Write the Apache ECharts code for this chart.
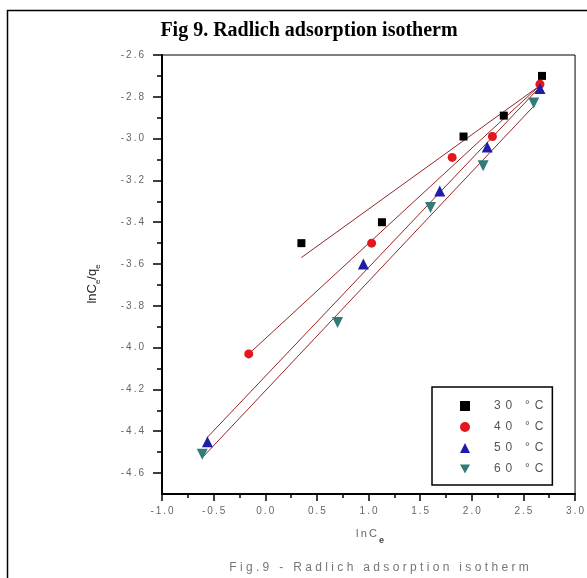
<!DOCTYPE html>
<html>
<head>
<meta charset="utf-8">
<script src="https://cdn.jsdelivr.net/npm/echarts@6/dist/echarts.min.js"></script>
<style>
  html, body { margin: 0; padding: 0; background: #fff; }
  #chart { width: 587px; height: 578px; }
</style>
</head>
<body>
<div id="chart"></div>
<script>
// Radlich isotherm: ln Ce against ln(Ce/qe) at four temperatures
const seriesNames = ['30 °C', '40 °C', '50 °C', '60 °C'];

const lnCe30 = [0.35, 1.13, 1.92, 2.31, 2.68];
const ratio30 = [-3.50, -3.40, -2.99, -2.89, -2.70];

const lnCe40 = [-0.16, 1.03, 1.81, 2.20, 2.66];
const ratio40 = [-4.03, -3.50, -3.09, -2.99, -2.74];

const lnCe50 = [-0.56, 0.95, 1.69, 2.15, 2.66];
const ratio50 = [-4.45, -3.60, -3.25, -3.04, -2.76];

const lnCe60 = [-0.61, 0.70, 1.60, 2.11, 2.60];
const ratio60 = [-4.51, -3.88, -3.33, -3.13, -2.83];

const xTicks = { min: -1.0, max: 3.0, step: 0.5 };
const yTicks = { min: -4.6, max: -2.6, step: 0.2 };

const colors = ['#000000', '#e3171d', '#1d1da8', '#2f7c7a'];
const symbols = ['rect', 'circle', 'triangle', 'triangle'];
const downTriangle = 'path://M0,0 L10,0 L5,9 Z';

// spread letters apart like the original typesetting
const spaced = (s, sep) => s.split('').join(sep || '\u2009');

// least-squares line through a data set, drawn across its x range
function fitLine(xs, ys) {
  const n = xs.length;
  const mx = xs.reduce((a, b) => a + b, 0) / n;
  const my = ys.reduce((a, b) => a + b, 0) / n;
  let sxy = 0, sxx = 0;
  for (let i = 0; i < n; i++) {
    sxy += (xs[i] - mx) * (ys[i] - my);
    sxx += (xs[i] - mx) * (xs[i] - mx);
  }
  const k = sxy / sxx, b = my - k * mx;
  const x0 = Math.min(...xs), x1 = Math.max(...xs);
  return [[x0, k * x0 + b], [x1, k * x1 + b]];
}

const sets = [[lnCe30, ratio30], [lnCe40, ratio40], [lnCe50, ratio50], [lnCe60, ratio60]];

const series = [];
sets.forEach(([xs, ys], i) => {
  series.push({
    name: 'fit' + i,
    type: 'line',
    data: fitLine(xs, ys),
    showSymbol: false,
    silent: true,
    z: 1,
    lineStyle: { color: '#962626', width: 1 }
  });
});
sets.forEach(([xs, ys], i) => {
  series.push({
    name: seriesNames[i],
    type: 'scatter',
    data: xs.map((x, j) => [x, ys[j]]),
    symbol: symbols[i],
    symbolRotate: i === 3 ? 180 : 0,
    symbolSize: i === 0 ? 8 : (i === 1 ? 9 : 11),
    itemStyle: { color: colors[i], opacity: 1 },
    z: 3
  });
});

const tickLabel = { color: '#666', fontSize: 10, fontFamily: 'Liberation Sans, Arial, sans-serif' };

const chart = echarts.init(document.getElementById('chart'), null, { renderer: 'canvas' });
chart.setOption({
  animation: false,
  backgroundColor: '#fff',
  title: {
    text: 'Fig 9. Radlich adsorption isotherm',
    left: 304,
    textAlign: 'center',
    top: 16,
    textStyle: { fontFamily: 'Liberation Serif, Times New Roman, serif', fontWeight: 'bold', fontSize: 20, color: '#000' }
  },
  legend: {
    orient: 'vertical',
    left: 432,
    top: 387,
    padding: [13, 9, 10, 28],
    itemWidth: 10,
    itemHeight: 10,
    itemGap: 9,
    borderColor: '#000',
    borderWidth: 1.5,
    backgroundColor: '#fff',
    data: seriesNames.map((n, i) => ({ name: n, icon: i === 3 ? downTriangle : symbols[i] })),
    formatter: n => spaced(n, '\u2009\u2009'),
    textStyle: { color: '#555', fontSize: 12, fontFamily: 'Liberation Sans, Arial, sans-serif', padding: [0, 0, 0, 19] }
  },
  grid: [
    { left: 162, top: 55, right: 8, bottom: 84, show: true, borderColor: '#000', borderWidth: 1, backgroundColor: 'transparent' },
    { left: 162, top: 55, right: 8, bottom: 105, show: false }
  ],
  xAxis: [
    {
      type: 'value', gridIndex: 0,
      min: xTicks.min, max: xTicks.max, interval: xTicks.step,
      axisLine: { onZero: false, lineStyle: { color: '#000', width: 2 } },
      axisTick: { length: 7, lineStyle: { color: '#000', width: 1.5 } },
      minorTick: { show: true, splitNumber: 2, length: 4, lineStyle: { color: '#000', width: 1.5 } },
      splitLine: { show: false },
      axisLabel: Object.assign({ margin: 12, formatter: v => spaced(v.toFixed(1)) }, tickLabel)
    },
    { type: 'value', gridIndex: 1, show: false, min: 0, max: 1 }
  ],
  yAxis: [
    {
      type: 'value', gridIndex: 0,
      min: -4.7, max: yTicks.max,
      axisLine: { onZero: false, lineStyle: { color: '#000', width: 2 } },
      axisTick: { show: false },
      axisLabel: { show: false },
      splitLine: { show: false }
    },
    {
      type: 'value', gridIndex: 1,
      min: yTicks.min, max: yTicks.max, interval: yTicks.step,
      axisLine: { show: false, onZero: false },
      axisTick: { show: true, length: 9, lineStyle: { color: '#000', width: 1.5 } },
      minorTick: { show: true, splitNumber: 2, length: 5, lineStyle: { color: '#000', width: 1.5 } },
      splitLine: { show: false },
      axisLabel: Object.assign({ margin: 18, formatter: v => spaced(v.toFixed(1)) }, tickLabel)
    }
  ],
  graphic: [
    {
      type: 'rect', silent: true, z: 100,
      shape: { x: 7.5, y: 10.5, width: 700, height: 700 },
      style: { fill: 'none', stroke: '#000', lineWidth: 1.5 }
    },
    {
      type: 'text', x: 92, y: 284, rotation: Math.PI / 2,
      style: {
        text: '{a|lnC}{s|e}{a|/q}{s|e}',
        align: 'center', verticalAlign: 'middle',
        rich: {
          a: { fontSize: 13, fontFamily: 'Liberation Sans, Arial, sans-serif', fill: '#222', lineHeight: 20, verticalAlign: 'middle' },
          s: { fontSize: 8, fontFamily: 'Liberation Sans, Arial, sans-serif', fill: '#222', lineHeight: 20, verticalAlign: 'bottom', padding: [8, 0, 0, 0] }
        }
      }
    },
    {
      type: 'text', x: 370, y: 534,
      style: {
        text: '{a|' + spaced('lnC') + '}{s|e}',
        align: 'center', verticalAlign: 'middle',
        rich: {
          a: { fontSize: 11, fontFamily: 'Liberation Sans, Arial, sans-serif', fill: '#666', lineHeight: 22, verticalAlign: 'middle' },
          s: { fontSize: 9, fontWeight: 'bold', fontFamily: 'Liberation Sans, Arial, sans-serif', fill: '#444', lineHeight: 22, verticalAlign: 'bottom', padding: [12, 0, 0, 2] }
        }
      }
    },
    {
      type: 'text', x: 379, y: 568,
      style: {
        text: spaced('Fig.9 - Radlich adsorption isotherm', ' '),
        align: 'center', verticalAlign: 'middle',
        fontSize: 12, fontFamily: 'Liberation Sans, Arial, sans-serif', fill: '#777'
      }
    }
  ],
  series: series
});
</script>
</body>
</html>
